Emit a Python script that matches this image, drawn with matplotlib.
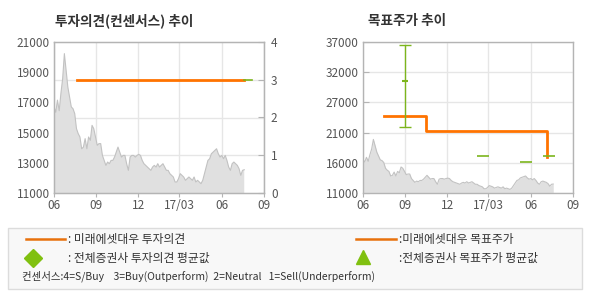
import pandas as pd
import matplotlib
matplotlib.use("Agg")
import matplotlib.pyplot as plt
from matplotlib.patches import Rectangle
from matplotlib.lines import Line2D

plt.rcParams['font.family'] = ['Noto Sans CJK KR', 'DejaVu Sans']

# daily close, 2016-06-01 .. 2017-07-20
prices = [16700, 16350, 17150, 16450, 17600, 18570, 20230, 19130, 18020, 17360,
          16700, 16580, 16250, 15260, 14930, 14710, 13930, 14040, 14600, 13930,
          14710, 14490, 15480, 15260, 14710, 14160, 14270, 14270, 13490, 13160,
          12830, 13050, 12940, 13160, 13160, 13380, 13710, 14040, 13710, 13380,
          13490, 13490, 12940, 12500, 13380, 13490, 13490, 13380, 13490, 13560,
          13490, 13160, 12940, 12830, 12720, 12610, 12500, 12720, 12830, 12720,
          12940, 12720, 12830, 12940, 12720, 12500, 12500, 12280, 12170, 12060,
          11730, 11730, 11950, 12280, 12170, 12060, 11840, 11950, 12060, 11950,
          11840, 12060, 11730, 11840, 11730, 11620, 11840, 12280, 12720, 13160,
          13270, 13600, 13710, 13820, 13930, 13600, 13380, 13490, 13270, 13490,
          13160, 12720, 12500, 12940, 13050, 12940, 12830, 12610, 12170, 12500,
          12540]
price_start, price_end = "2016-06-01", "2017-07-20"

# 투자의견 (미래에셋대우)
op_dates = ["2016-07-20", "2017-07-20"]
op_values = [3, 3]
op_cons_dates = ["2017-07-20", "2017-08-05"]
op_cons_values = [3, 3]

# 목표주가 (미래에셋대우)
tp_dates = ["2016-07-17", "2016-10-17", "2017-07-06"]
tp_values = [24200, 21700, 17200]

# 전체증권사 목표주가 (mean, low, high)
cons_dates = ["2016-09-01", "2017-02-17", "2017-05-22", "2017-07-11"]
cons_mean = [30200, 17400, 16400, 17400]
cons_low = [22400, 17400, 16400, 17400]
cons_high = [36500, 17400, 16400, 17400]

xtick_dates = ["2016-06-01", "2016-09-01", "2016-12-01", "2017-03-01", "2017-06-01", "2017-09-01"]
xtick_labels = ["06", "09", "12", "17/03", "06", "09"]

ORANGE = "#ff7300"
GREEN = "#7cb51c"
GRID = "#e6e6e6"
SPINE = "#b4b4b4"
TXT = "#555555"

p_dates = pd.date_range(price_start, price_end, periods=len(prices))
xt = pd.to_datetime(xtick_dates)
x_lo, x_hi = xt[0], xt[-1]

fig = plt.figure(figsize=(5.9, 3.0), dpi=100)


def style_axes(ax):
    for s in ax.spines.values():
        s.set_color(SPINE)
        s.set_linewidth(1)
    ax.set_xlim(x_lo, x_hi)
    ax.set_xticks(xt)
    ax.set_xticklabels(xtick_labels)
    ax.tick_params(axis='x', direction='out', length=3, color=SPINE,
                   labelsize=8.5, labelcolor=TXT, pad=1)
    ax.grid(axis='x', color=GRID, lw=1)


def draw_price(ax):
    ax.fill_between(p_dates, prices, 0, color="#e0e0e0", lw=0, zorder=1)
    ax.plot(p_dates, prices, color="#c2c2c2", lw=0.8, zorder=2)


# ---- left: 투자의견(컨센서스) 추이
ax1 = fig.add_axes([54 / 590, 1 - 193 / 300, 210 / 590, 151 / 300])
style_axes(ax1)
ax1.set_axisbelow(True)
draw_price(ax1)
ax1.set_ylim(11000, 21000)
ax1.set_yticks(range(11000, 21001, 2000))
ax1.tick_params(axis='y', length=0, labelsize=8.5, labelcolor=TXT, pad=3)
# horizontal grid follows the right (0-4) axis
for v in [1, 2, 3]:
    ax1.axhline(11000 + v * 2500, color=GRID, lw=1, zorder=0)

ax1r = ax1.twinx()
ax1r.set_ylim(0, 4)
ax1r.set_yticks([0, 1, 2, 3, 4])
ax1r.tick_params(axis='y', direction='in', length=4, color=SPINE,
                 labelsize=8.5, labelcolor=TXT, pad=5)
for s in ax1r.spines.values():
    s.set_color(SPINE)
ax1r.plot(pd.to_datetime(op_dates), op_values, color=ORANGE, lw=2, zorder=5)
ax1r.plot(pd.to_datetime(op_cons_dates), op_cons_values, color=GREEN, lw=1.2, zorder=5)
ax1r.set_xlim(x_lo, x_hi)

fig.text(55 / 590, 1 - 21 / 300, "투자의견(컨센서스) 추이", fontsize=9.8,
         fontweight='bold', color="#333333", va='center')

# ---- right: 목표주가 추이
ax2 = fig.add_axes([363 / 590, 1 - 193 / 300, 210 / 590, 151 / 300])
style_axes(ax2)
ax2.set_axisbelow(True)
draw_price(ax2)
ax2.set_ylim(11000, 37000)
yt2 = [11000 + 5200 * k for k in range(6)]
ax2.set_yticks(yt2)
ax2.set_yticklabels([f"{round(v / 1000) * 1000}" for v in yt2])
ax2.tick_params(axis='y', direction='in', length=4, color=SPINE,
                labelsize=8.5, labelcolor=TXT, pad=3)
ax2.grid(axis='y', color=GRID, lw=1)

ax2.plot(pd.to_datetime(tp_dates), tp_values, drawstyle='steps-post',
         color=ORANGE, lw=2, zorder=5)
cd = pd.to_datetime(cons_dates)
for d, m, lo, hi in zip(cd, cons_mean, cons_low, cons_high):
    if hi > lo:
        ax2.errorbar([d], [m], yerr=[[m - lo], [hi - m]], fmt='none',
                     ecolor=GREEN, elinewidth=1, capsize=4, capthick=1, zorder=6)
        ax2.plot([d], [m], marker='_', color=GREEN, ms=4, mew=1.5, zorder=6)
    else:
        ax2.plot([d], [m], marker='_', color=GREEN, ms=9, mew=1.2, zorder=6)

fig.text(368 / 590, 1 - 21 / 300, "목표주가 추이", fontsize=9.8,
         fontweight='bold', color="#333333", va='center')

# ---- legend box
fig.patches.append(Rectangle((8 / 590, 1 - 289 / 300), 574 / 590, 61 / 300,
                             transform=fig.transFigure, facecolor="#f8f8f8",
                             edgecolor="#dcdcdc", lw=1))
LC = "#333333"
y1, y2, y3 = 1 - 239 / 300, 1 - 258 / 300, 1 - 276 / 300
fig.lines.append(Line2D([26 / 590, 65 / 590], [y1, y1], transform=fig.transFigure,
                        color="#e8710c", lw=1.8))
fig.text(68 / 590, y1, ": 미래에셋대우 투자의견", fontsize=8.5, color=LC, va='center')
fig.lines.append(Line2D([33 / 590], [y2], transform=fig.transFigure, marker='D',
                        color="#80c010", ms=9, ls='none'))
fig.text(68 / 590, y2, ": 전체증권사 투자의견 평균값", fontsize=8.5, color=LC, va='center')

fig.lines.append(Line2D([356 / 590, 396 / 590], [y1, y1], transform=fig.transFigure,
                        color="#e8710c", lw=1.8))
fig.text(399 / 590, y1, ":미래에셋대우 목표주가", fontsize=8.5, color=LC, va='center')
fig.lines.append(Line2D([363 / 590], [y2 + 0.005], transform=fig.transFigure, marker='^',
                        color="#80c010", ms=10, ls='none'))
fig.text(399 / 590, y2, ":전체증권사 목표주가 평균값", fontsize=8.5, color=LC, va='center')

fig.text(22 / 590, y3, "컨센서스:4=S/Buy    3=Buy(Outperform)  2=Neutral   1=Sell(Underperform)",
         fontsize=7.5, color=LC, va='center')

fig.savefig("out.png", dpi=100, facecolor="white")
